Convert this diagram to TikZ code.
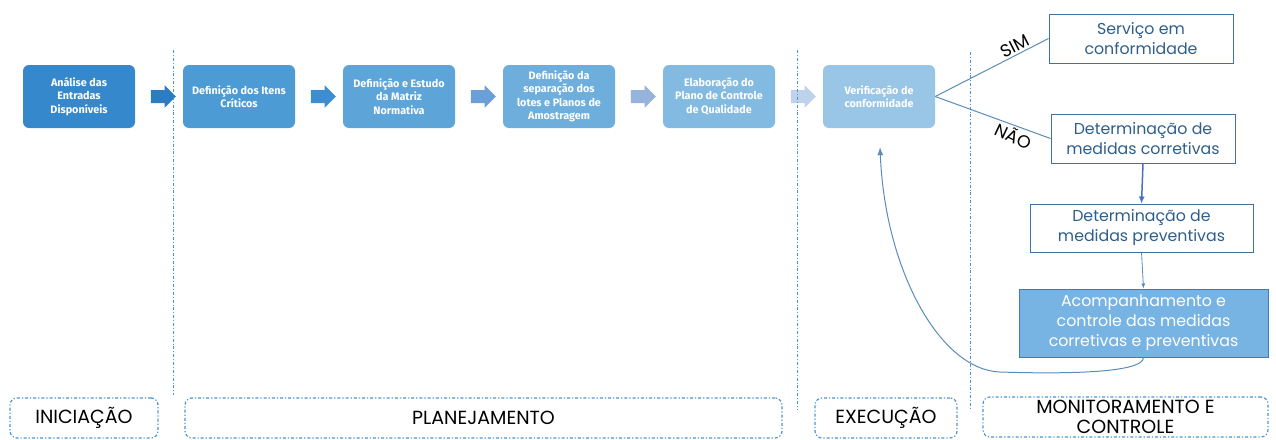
\documentclass[tikz,border=0pt]{standalone}
\usepackage{fontspec}
\setmainfont{Poppins}
\newfontfamily\stepfont{Fira Sans}
\usetikzlibrary{calc, positioning, shapes.arrows, arrows.meta}

\definecolor{stepA}{HTML}{3588CB}
\definecolor{stepB}{HTML}{4C9BD5}
\definecolor{stepC}{HTML}{5DA5D9}
\definecolor{stepD}{HTML}{6EAEDC}
\definecolor{stepE}{HTML}{82BAE1}
\definecolor{stepF}{HTML}{99C5E6}
\definecolor{arrA}{HTML}{2B7CC0}
\definecolor{arrB}{HTML}{3D8DD3}
\definecolor{arrC}{HTML}{6B9FD8}
\definecolor{arrD}{HTML}{96B3DC}
\definecolor{arrE}{HTML}{BFD2EB}
\definecolor{resline}{HTML}{41729F}
\definecolor{restext}{HTML}{2E5F8A}
\definecolor{acompfill}{HTML}{78B4E3}
\definecolor{acompline}{HTML}{3B7CC0}
\definecolor{phaseline}{HTML}{4C94D4}
\definecolor{branchline}{HTML}{5A8CBB}
\definecolor{downline}{HTML}{4472C4}

\newcommand{\StepW}{112pt}
\newcommand{\StepH}{63pt}
\newcommand{\ResW}{184pt}
\newcommand{\ResH}{49pt}

\tikzset{StepSquare/.style={
    inner sep=0pt,
    minimum width=\StepW,
    minimum height=\StepH,
    rounded corners=6pt,
    draw=none,
    text=white,
    align=center,
    font=\stepfont\bfseries\fontsize{10.8}{13.5}\selectfont
    }
}
\tikzset{BlockArrow/.style={
    single arrow,
    inner xsep=0pt,
    inner ysep=6.3pt,
    minimum height=25pt,
    single arrow head extend=4.7pt,
    single arrow head indent=0pt,
    draw=none
    }
}
\tikzset{ResSquare/.style={
    inner sep=0pt,
    minimum width=\ResW,
    minimum height=\ResH,
    draw=resline,
    line width=1pt,
    fill=white,
    text=restext,
    align=center,
    font=\fontsize{15.8}{20}\selectfont
    }
}
\tikzset{PhaseSquare/.style={
    inner sep=0pt,
    minimum height=40pt,
    rounded corners=7pt,
    draw=phaseline,
    line width=1.2pt,
    dash dot,
    align=center,
    font=\fontsize{19}{20}\selectfont
    }
}
\tikzset{BranchLabel/.style={
    inner sep=1pt,
    text=black,
    font=\fontsize{17.5}{18}\selectfont
    }
}
\tikzset{Divider/.style={
    draw=phaseline,
    line width=0.8pt,
    dash dot
    }
}

\begin{document}
\begin{tikzpicture}[x=1pt, y=-1pt]

    \useasboundingbox (0,0) rectangle (1276,439);

    \node (ana)[StepSquare, fill=stepA] at (79,96.5) {Análise das\\Entradas\\Disponíveis};
    \node (itens)[StepSquare, fill=stepB, right=47.6pt of ana] {Definição dos Itens\\Críticos};
    \node (matriz)[StepSquare, fill=stepC, right=47.6pt of itens] {Definição e Estudo\\da Matriz\\Normativa};
    \node (lotes)[StepSquare, fill=stepD, right=47.6pt of matriz] {Definição da\\separação dos\\lotes e Planos de\\Amostragem};
    \node (plano)[StepSquare, fill=stepE, right=47.6pt of lotes] {Elaboração do\\Plano de Controle\\de Qualidade};
    \node (verif)[StepSquare, fill=stepF, right=47.6pt of plano] {Verificação de\\conformidade};

    \node (a1)[BlockArrow, fill=arrA] at ($(ana.east)!0.5!(itens.west)+(1,0)$) {};
    \node (a2)[BlockArrow, fill=arrB] at ($(itens.east)!0.5!(matriz.west)+(1,0)$) {};
    \node (a3)[BlockArrow, fill=arrC] at ($(matriz.east)!0.5!(lotes.west)+(1,0)$) {};
    \node (a4)[BlockArrow, fill=arrD] at ($(lotes.east)!0.5!(plano.west)+(1,0)$) {};
    \node (a5)[BlockArrow, fill=arrE] at ($(plano.east)!0.5!(verif.west)+(1,0)$) {};

    % results on the right
    \node (servico)[ResSquare] at (1141,38.5) {Serviço em\\conformidade};
    \node (corret)[ResSquare, below=50pt of servico, xshift=2pt] {Determinação de\\medidas corretivas};
    \node (prevent)[ResSquare, minimum width=223pt, minimum height=48pt, below=40pt of corret, xshift=-1.5pt] {Determinação de\\medidas preventivas};
    \node (acomp)[ResSquare, minimum width=249pt, minimum height=68pt, fill=acompfill, draw=acompline, text=white, below=36pt of prevent, xshift=2pt] {Acompanhamento e\\controle das medidas\\corretivas e preventivas};

    \draw[branchline, line width=1pt] (verif.east) -- node[BranchLabel, pos=0.74, sloped, above=1pt] {SIM} (servico.west);
    \draw[branchline, line width=1pt] (verif.east) -- node[BranchLabel, pos=0.72, sloped, below=1pt, rotate=-5] {NÃO} (corret.west);

    \draw[-{Latex[length=7pt, width=6pt]}, downline, line width=1.5pt] (corret.south) -- (prevent.north);
    \draw[-{Latex[length=5pt, width=4pt]}, branchline, line width=0.8pt] (prevent.south) -- (acomp.north);

    \coordinate (fb) at ($(verif.south)+(1,19)$);
    \draw[-{Latex[length=8pt, width=6pt]}, branchline, line width=1pt] (acomp.south) .. controls +(0,16) and (1060,374) .. (1000,372) .. controls (940,370) and (885,270) .. (fb);

    % phases
    \node (inic)[PhaseSquare, minimum width=148pt] at (84,418) {INICIAÇÃO};
    \node (plan)[PhaseSquare, minimum width=597pt] at (483.5,418) {PLANEJAMENTO};
    \node (exec)[PhaseSquare, minimum width=142pt] at (886,418) {EXECUÇÃO};
    \node (monit)[PhaseSquare, minimum width=285pt] at (1125.5,417) {MONITORAMENTO E\\CONTROLE};

    \draw[Divider] (173,50) -- (173,395);
    \draw[Divider] (797,50) -- (797,410);
    \draw[Divider] (970,52) -- (970,410);

\end{tikzpicture}
\end{document}
